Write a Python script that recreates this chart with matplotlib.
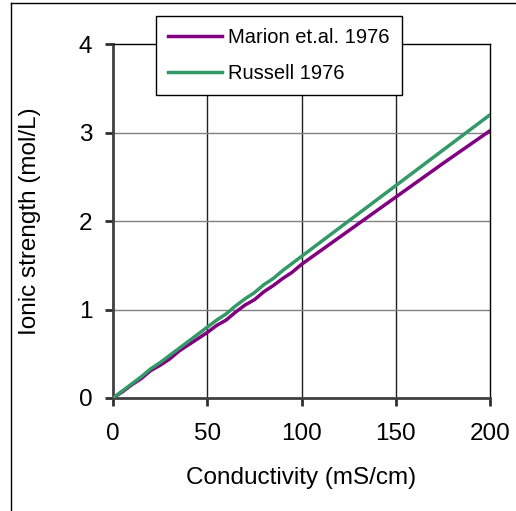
import matplotlib
matplotlib.use("Agg")
import matplotlib.pyplot as plt
from matplotlib.lines import Line2D

plt.rcParams['font.family'] = ['Liberation Sans', 'DejaVu Sans']

# conductivity (mS/cm) and ionic strength (mol/L) for the two relations
marion_ec = [0, 5, 10, 15, 20, 25, 30, 35, 40, 45, 50, 55, 60, 65, 70, 75, 80, 85, 90, 95, 100,
             125, 150, 175, 200]
marion_i = [0, 0.07, 0.15, 0.22, 0.31, 0.37, 0.44, 0.53, 0.60, 0.67, 0.74, 0.82, 0.88, 0.97,
            1.05, 1.11, 1.20, 1.27, 1.35, 1.42, 1.51, 1.89, 2.27, 2.65, 3.02]
russell_ec = [0, 5, 10, 15, 20, 25, 30, 35, 40, 45, 50, 55, 60, 65, 70, 75, 80, 85, 90, 95, 100,
              125, 150, 175, 200]
russell_i = [0, 0.08, 0.16, 0.24, 0.33, 0.40, 0.48, 0.56, 0.64, 0.72, 0.80, 0.88, 0.95, 1.04,
             1.12, 1.19, 1.28, 1.35, 1.44, 1.52, 1.60, 2.00, 2.40, 2.80, 3.20]

fig = plt.figure(figsize=(5.16, 5.11), dpi=100)
ax = fig.add_axes([113/516, 1 - 398/511, 377/516, 354/511])

ax.plot(marion_ec, marion_i, color='#800080', lw=2.5, label='Marion et.al. 1976', zorder=3)
ax.plot(russell_ec, russell_i, color='#339966', lw=2.5, label='Russell 1976', zorder=3)

ax.set_xlim(0, 200)
ax.set_ylim(0, 4)
ax.set_xticks([0, 50, 100, 150, 200])
ax.set_yticks([0, 1, 2, 3, 4])

# grid: dark verticals, grey horizontals
for x in [50, 100, 150]:
    ax.axvline(x, color='#202020', lw=1, zorder=1)
for y in [1, 2, 3]:
    ax.axhline(y, color='#808080', lw=1, zorder=1)

for side in ['left', 'bottom']:
    ax.spines[side].set_color('#404040')
    ax.spines[side].set_linewidth(2)
for side in ['top', 'right']:
    ax.spines[side].set_color('black')
    ax.spines[side].set_linewidth(1)

ax.tick_params(direction='out', length=6, width=2, color='#303030', labelsize=17.5)
ax.tick_params(axis='x', pad=12)
ax.tick_params(axis='y', pad=9)
ax.set_xlabel('Conductivity (mS/cm)', fontsize=17.5, labelpad=16)
ax.set_ylabel('Ionic strength (mol/L)', fontsize=17.5, labelpad=27)

leg = ax.legend(loc='upper left', bbox_to_anchor=(156/516, 1 - 16/511), bbox_transform=fig.transFigure,
                fontsize=14.5, frameon=True, fancybox=False, borderpad=0.6, handlelength=2.7,
                handletextpad=0.3, labelspacing=0.85, borderaxespad=0)
leg.get_frame().set_edgecolor('black')
leg.get_frame().set_linewidth(1)
leg.get_frame().set_facecolor('white')
leg.get_frame().set_alpha(1)

# outer border around the chart area
fig.add_artist(Line2D([11/516, 11/516], [0, 1 - 3/511], transform=fig.transFigure, color='black', lw=1))
fig.add_artist(Line2D([11/516, 1], [1 - 3/511, 1 - 3/511], transform=fig.transFigure, color='black', lw=1))

fig.savefig('out.png', dpi=100)
